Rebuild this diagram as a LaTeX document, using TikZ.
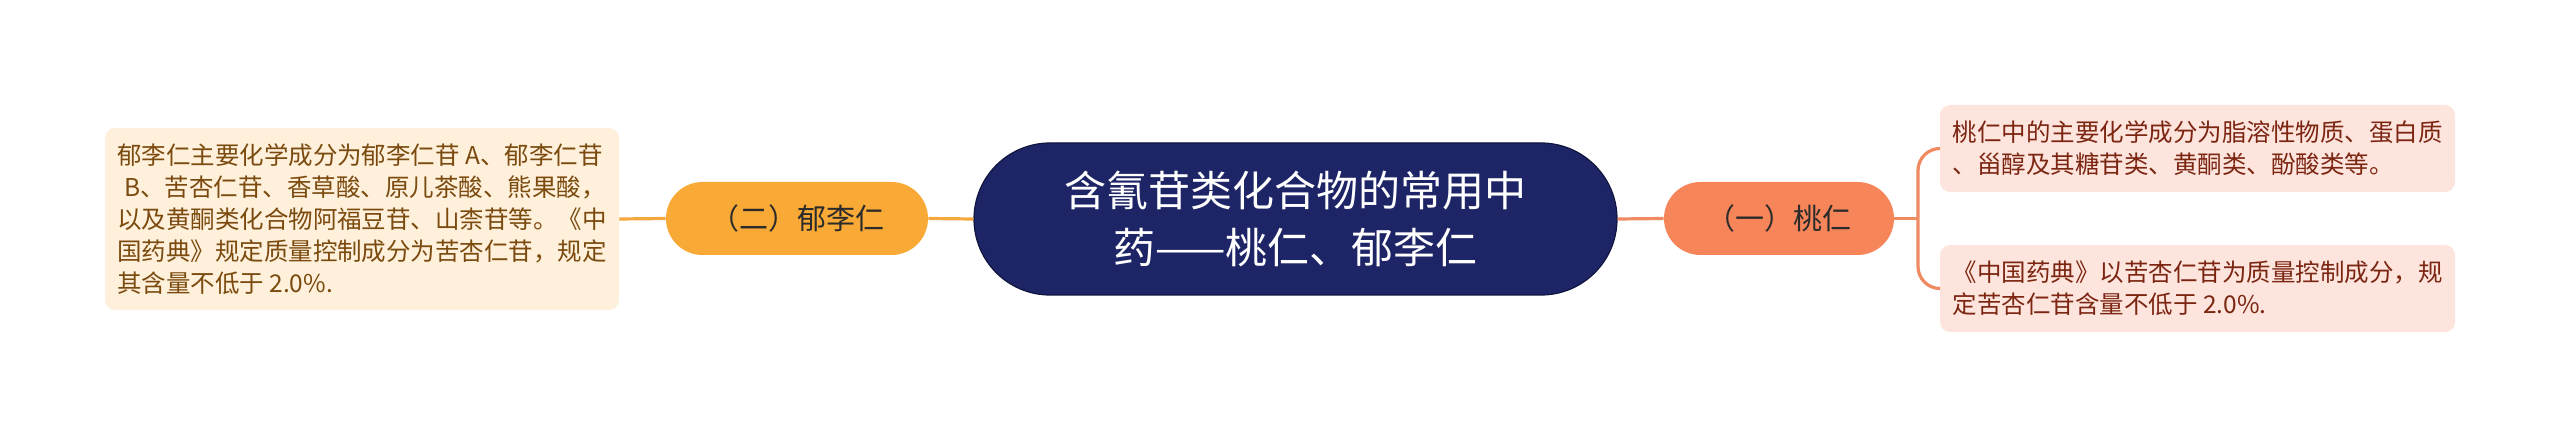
\documentclass[tikz,border=0pt]{standalone}
\usepackage{fontspec}
\setmainfont{Noto Sans CJK SC}
\definecolor{navy}{HTML}{1E2566}
\definecolor{navyline}{HTML}{10153F}
\definecolor{orangefill}{HTML}{F9A935}
\definecolor{orangeline}{HTML}{F5A83E}
\definecolor{peachfill}{HTML}{F7855A}
\definecolor{peachline}{HTML}{F08A62}
\definecolor{creamfill}{HTML}{FEF0DA}
\definecolor{creamtext}{HTML}{7B4A0E}
\definecolor{pinkfill}{HTML}{FDE5DE}
\definecolor{pinktext}{HTML}{7C2612}
\definecolor{darktext}{HTML}{2B2B2B}
\begin{document}
\begin{tikzpicture}[x=0.5pt,y=-0.5pt,
  rootnode/.style={fill=navy,draw=navyline,line width=0.6pt,rounded corners=38pt,
    minimum width=321.5pt,minimum height=76pt,inner sep=0pt,align=center,
    text=white,font=\fontsize{21pt}{28.5pt}\selectfont},
  topicnode/.style={rounded corners=18.25pt,minimum height=36.5pt,inner sep=0pt,
    text=darktext,font=\fontsize{14.5pt}{18pt}\selectfont},
  leafnode/.style={rounded corners=5pt,inner sep=0pt,align=left,
    font=\fontsize{12.25pt}{16pt}\selectfont},
  orangelink/.style={draw=orangeline,line width=1.6pt},
  peachlink/.style={draw=peachline,line width=1.6pt},
]
\useasboundingbox (0,0) rectangle (2560,438);

\node[rootnode] (root) at (1295.5,219) {含氰苷类化合物的常用中\\药——桃仁、郁李仁};

\node[topicnode,fill=orangefill,minimum width=131pt] (t2) at (797,218.5) {（二）郁李仁};
\node[topicnode,fill=peachfill,minimum width=115pt] (t1) at (1779,218.5) {（一）桃仁};

\node[leafnode,fill=creamfill,text=creamtext,minimum width=257pt,minimum height=91pt] (l1) at (362,219) {%
郁李仁主要化学成分为郁李仁苷 A、郁李仁苷\\%
\hspace{0.3em}B、苦杏仁苷、香草酸、原儿茶酸、熊果酸，\\%
以及黄酮类化合物阿福豆苷、山柰苷等。《中\\%
国药典》规定质量控制成分为苦杏仁苷，规定\\%
其含量不低于 2.0\%.};

\node[leafnode,fill=pinkfill,text=pinktext,minimum width=257.5pt,minimum height=43.5pt] (r1) at (2197.5,148.5) {%
桃仁中的主要化学成分为脂溶性物质、蛋白质\\%
、甾醇及其糖苷类、黄酮类、酚酸类等。};

\node[leafnode,fill=pinkfill,text=pinktext,minimum width=257.5pt,minimum height=43.5pt] (r2) at (2197.5,288.5) {%
《中国药典》以苦杏仁苷为质量控制成分，规\\%
定苦杏仁苷含量不低于 2.0\%.};

\coordinate (bx) at (1918,218.5);

\draw[orangelink] (l1.east) -- (t2.west);
\draw[orangelink] (t2.east) -- (root.west);
\draw[peachlink] (root.east) -- (t1.west);
\draw[peachlink] (t1.east) -- (bx);
\draw[peachlink,rounded corners=11pt] (r1.west) -| (bx) |- (r2.west);
\end{tikzpicture}
\end{document}
